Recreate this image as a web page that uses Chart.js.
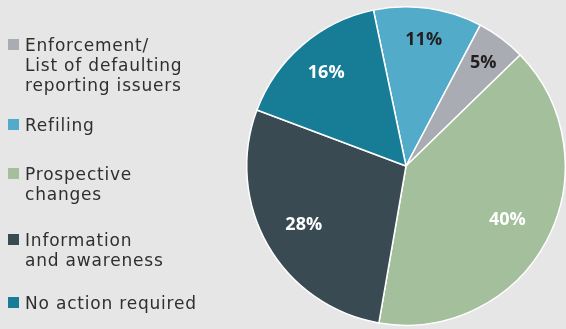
<!DOCTYPE html>
<html>
<head>
<meta charset="utf-8">
<script src="https://cdn.jsdelivr.net/npm/chart.js@4/dist/chart.umd.min.js"></script>
<style>
  html, body { margin: 0; padding: 0; background: #e6e6e6; }
  #wrap { position: relative; width: 566px; height: 329px; }
  #legend { position: absolute; left: 0; top: 0; font-family: "DejaVu Sans", sans-serif;
            font-size: 17px; line-height: 20px; letter-spacing: 0.8px; color: #2f2f2f; }
  .item { position: absolute; left: 25px; white-space: nowrap; }
  .box { position: absolute; left: -17px; top: 4px; width: 11px; height: 11px; }
</style>
</head>
<body>
<div id="wrap">
  <canvas id="pie" width="566" height="329"></canvas>
  <div id="legend"></div>
</div>
<script>
  // slices in clockwise order, starting just left of twelve o'clock
  const categories = [
    ["Refiling"],
    ["Enforcement/", "List of defaulting", "reporting issuers"],
    ["Prospective", "changes"],
    ["Information", "and awareness"],
    ["No action required"]
  ];
  const values = [11, 5, 40, 28, 16];
  const colors = ["#52abc9", "#a9adb3", "#a3bf9b", "#3a4a52", "#177c95"];
  const labelColors = ["#231f20", "#231f20", "#ffffff", "#ffffff", "#ffffff"];

  // legend lists Enforcement before Refiling
  const legendOrder = [1, 0, 2, 3, 4];
  const legendTops = [35, 115, 164, 230, 293];
  const labelRadius = [0.8, 0.81, 0.72, 0.74, 0.77];

  const pctLabels = {
    id: "pctLabels",
    afterDatasetsDraw(chart) {
      const ctx = chart.ctx;
      const arcs = chart.getDatasetMeta(0).data;
      ctx.save();
      ctx.font = "bold 18px 'Open Sans', sans-serif";
      ctx.textAlign = "center";
      ctx.textBaseline = "middle";
      arcs.forEach((arc, i) => {
        const mid = (arc.startAngle + arc.endAngle) / 2;
        const r = arc.outerRadius * labelRadius[i];
        ctx.fillStyle = labelColors[i];
        ctx.fillText(values[i] + "%", arc.x + Math.cos(mid) * r, arc.y + Math.sin(mid) * r);
      });
      ctx.restore();
    }
  };

  const chart = new Chart(document.getElementById("pie"), {
    type: "pie",
    data: {
      labels: categories,
      datasets: [{
        data: values,
        backgroundColor: colors,
        borderColor: "#ffffff",
        borderWidth: 1.5
      }]
    },
    options: {
      responsive: false,
      animation: false,
      rotation: -11.8,
      layout: { padding: { left: 246, right: 0, top: 6, bottom: 3 } },
      plugins: {
        legend: { display: false },
        tooltip: { enabled: false }
      }
    },
    plugins: [pctLabels]
  });

  // html legend built from the chart's own legend items
  const items = Chart.overrides.pie.plugins.legend.labels.generateLabels(chart);
  const legendEl = document.getElementById("legend");
  legendOrder.forEach((idx, pos) => {
    const it = items[idx];
    const div = document.createElement("div");
    div.className = "item";
    div.style.top = legendTops[pos] + "px";
    const box = document.createElement("span");
    box.className = "box";
    box.style.background = it.fillStyle;
    div.appendChild(box);
    categories[idx].forEach((line, k) => {
      if (k > 0) div.appendChild(document.createElement("br"));
      div.appendChild(document.createTextNode(line));
    });
    legendEl.appendChild(div);
  });
</script>
</body>
</html>
